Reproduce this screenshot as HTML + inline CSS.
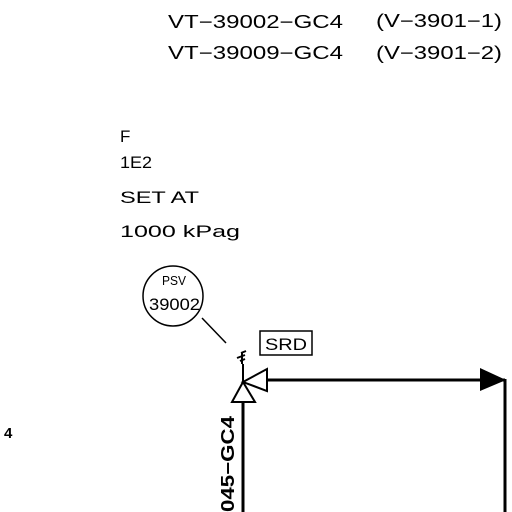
<!DOCTYPE html>
<html><head><meta charset="utf-8"><style>html,body{margin:0;padding:0;background:#fff}svg{display:block}text{font-family:"Liberation Sans",sans-serif;fill:#000}</style></head>
<body>
<svg width="512" height="512" viewBox="0 0 512 512">
<rect width="512" height="512" fill="#fff"/>
<text x="168" y="28" font-size="18" textLength="175" lengthAdjust="spacingAndGlyphs">VT−39002−GC4</text>
<text x="376" y="27" font-size="18" textLength="126" lengthAdjust="spacingAndGlyphs">(V−3901−1)</text>
<text x="168" y="59" font-size="18" textLength="175" lengthAdjust="spacingAndGlyphs">VT−39009−GC4</text>
<text x="376" y="59" font-size="18" textLength="126" lengthAdjust="spacingAndGlyphs">(V−3901−2)</text>
<text x="120" y="142" font-size="17">F</text>
<text x="120" y="168" font-size="17" textLength="32" lengthAdjust="spacingAndGlyphs">1E2</text>
<text x="120" y="203" font-size="17" textLength="79" lengthAdjust="spacingAndGlyphs">SET  AT</text>
<text x="120" y="237" font-size="17" textLength="120" lengthAdjust="spacingAndGlyphs">1000  kPag</text>
<g>
<circle cx="173" cy="296" r="30" fill="none" stroke="#000" stroke-width="1.5"/>
<text x="162" y="285" font-size="13" textLength="24" lengthAdjust="spacingAndGlyphs">PSV</text>
<text x="149" y="310" font-size="17" textLength="51" lengthAdjust="spacingAndGlyphs">39002</text>
</g>
<line x1="202" y1="318" x2="226" y2="343" stroke="#000" stroke-width="1.5"/>
<g>
<rect x="260" y="331" width="52" height="24" fill="none" stroke="#000" stroke-width="1.5"/>
<text x="265" y="350" font-size="17" textLength="42" lengthAdjust="spacingAndGlyphs">SRD</text>
</g>
<g stroke="#000" stroke-width="2" fill="#fff">
<path d="M241 353 l5 -2 M237 358 l8 -3 M240 361 l5 -2 M242 352 v12 M243 364 v18" fill="none"/>
<polygon points="243,382 232,402 255,402"/>
<polygon points="243,382 267,369 267,391"/>
</g>
<line x1="267" y1="380" x2="505" y2="380" stroke="#000" stroke-width="3"/>
<polygon points="480,368 506,380 480,391" fill="#000"/>
<line x1="505" y1="379" x2="505" y2="512" stroke="#000" stroke-width="3"/>
<line x1="243" y1="402" x2="243" y2="512" stroke="#000" stroke-width="3"/>
<text transform="translate(234,512) rotate(-90)" font-size="18" font-weight="bold" textLength="96" lengthAdjust="spacingAndGlyphs">045−GC4</text>
<text x="4" y="438" font-size="15" font-weight="bold">4</text>
</svg>
</body></html>
